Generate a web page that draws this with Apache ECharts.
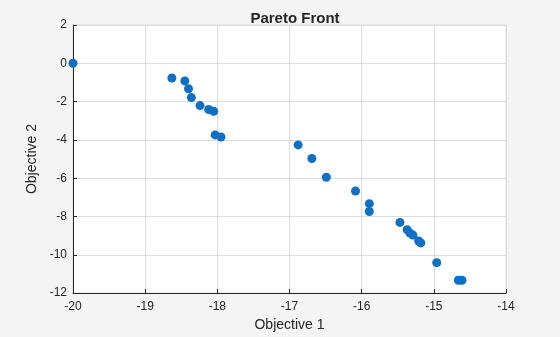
<!DOCTYPE html>
<html>
<head>
<meta charset="utf-8">
<script src="https://cdn.jsdelivr.net/npm/echarts@6/dist/echarts.min.js"></script>
<style>
html,body{margin:0;padding:0;background:#f4f4f4;}
#c{width:560px;height:337px;}
</style>
</head>
<body>
<div id="c"></div>
<script>
const objective1 = [-20, -18.63, -18.45, -18.40, -18.36, -18.24, -18.12, -18.05, -18.03, -17.95,
  -16.88, -16.69, -16.49, -16.085, -15.894, -15.894, -15.47, -15.37, -15.33, -15.29, -15.21, -15.18,
  -14.96, -14.66, -14.61];
const objective2 = [0, -0.77, -0.92, -1.33, -1.79, -2.21, -2.41, -2.51, -3.74, -3.85,
  -4.26, -4.97, -5.95, -6.67, -7.33, -7.74, -8.31, -8.69, -8.87, -8.97, -9.28, -9.38,
  -10.41, -11.33, -11.33];
const xTicks = [-20, -19, -18, -17, -16, -15, -14];
const yTicks = [2, 0, -2, -4, -6, -8, -10, -12];
const titleText = 'Pareto Front';
const xLabel = 'Objective 1';
const yLabel = 'Objective 2';

const points = objective1.map((x, i) => [x, objective2[i]]);
const font = "'Liberation Sans', Arial, sans-serif";
const axisColor = '#262626';

const chart = echarts.init(document.getElementById('c'), null, {renderer: 'canvas', width: 560, height: 337});
chart.setOption({
  backgroundColor: '#f4f4f4',
  animation: false,
  title: {
    text: titleText,
    left: 290, top: 6, textAlign: 'center',
    textStyle: {fontFamily: font, fontSize: 15, fontWeight: 'bold', color: '#262626'}
  },
  grid: {
    left: 73, width: 433, top: 25, height: 273,
    show: true, backgroundColor: '#ffffff', borderColor: '#dcdcdc', borderWidth: 1
  },
  xAxis: {
    type: 'value', min: xTicks[0], max: xTicks[xTicks.length - 1], interval: 1,
    name: xLabel, nameLocation: 'middle', nameGap: 23,
    nameTextStyle: {fontFamily: font, fontSize: 14, color: axisColor},
    axisLine: {show: true, onZero: false, lineStyle: {color: axisColor, width: 1}},
    axisTick: {show: true, inside: true, length: 4, lineStyle: {color: axisColor}},
    axisLabel: {fontFamily: font, fontSize: 12, color: axisColor, margin: 8},
    splitLine: {show: true, lineStyle: {color: '#dcdcdc', width: 1}}
  },
  yAxis: {
    type: 'value', min: yTicks[yTicks.length - 1], max: yTicks[0], interval: 2,
    name: yLabel, nameLocation: 'middle', nameGap: 30,
    nameTextStyle: {fontFamily: font, fontSize: 14, color: axisColor},
    axisLine: {show: true, onZero: false, lineStyle: {color: axisColor, width: 1}},
    axisTick: {show: true, inside: true, length: 4, lineStyle: {color: axisColor}},
    axisLabel: {fontFamily: font, fontSize: 12, color: axisColor, margin: 6},
    splitLine: {show: true, lineStyle: {color: '#dcdcdc', width: 1}}
  },
  series: [{
    type: 'scatter',
    data: points,
    symbol: 'circle',
    symbolSize: 9,
    itemStyle: {color: '#0f6fc0', opacity: 1}
  }]
});
</script>
</body>
</html>
